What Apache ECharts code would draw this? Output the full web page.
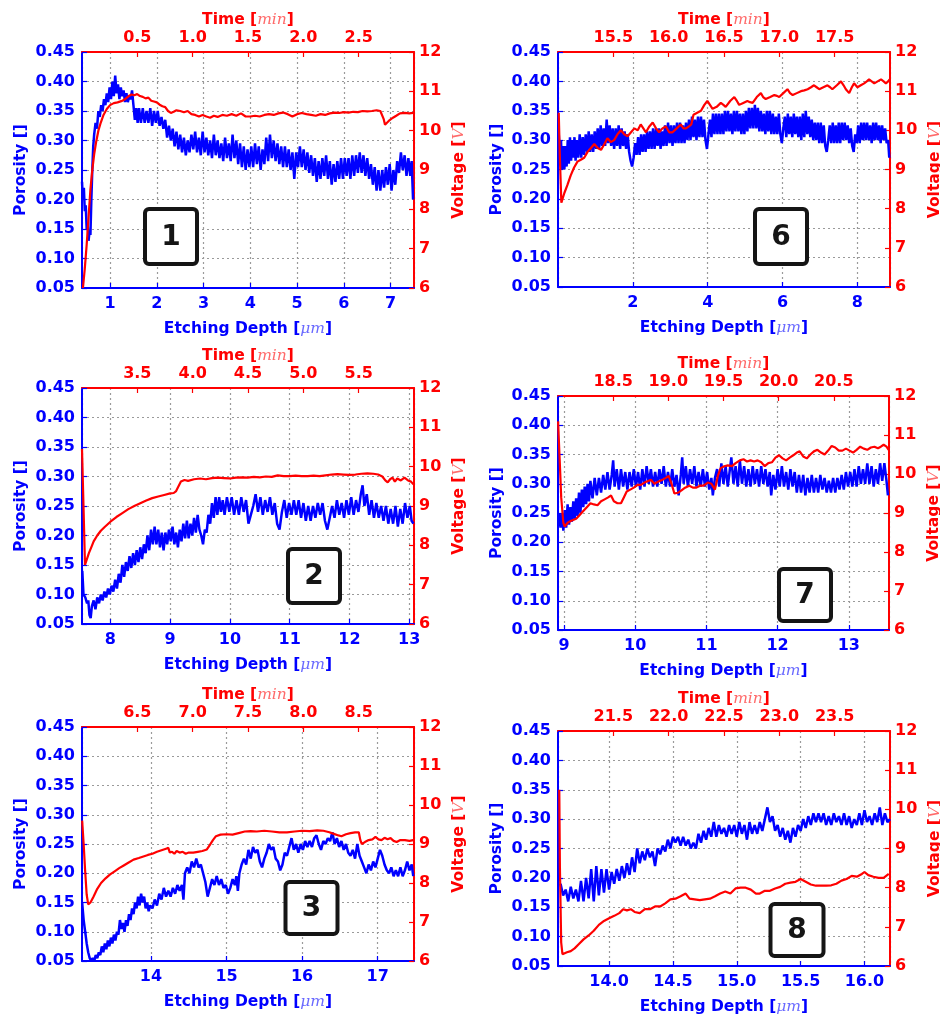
<!DOCTYPE html>
<html><head><meta charset="utf-8">
<script src="https://cdn.jsdelivr.net/npm/echarts@6/dist/echarts.min.js"></script>
<style>html,body{margin:0;padding:0;background:#fff}#c{width:940px;height:1014px}</style>
</head><body><div id="c"></div>
<script>
// ---------------- DATA ----------------
const panelNumbers = ['1','6','2','7','3','8'];
const depthRanges = [[0.4,7.5],[0,8.87],[7.525,13.08],[8.915,13.565],[13.088,17.48],[13.6,16.2]];
const depthSteps = [1,2,1,1,1,0.5];
const timeRanges = [[0,3],[15,18],[3,6],[18,21],[6,9],[21,24]];
const timeStep = 0.5;
const porosityRange = [0.05,0.45];
const porosityStep = 0.05;
const voltageRange = [6,12];
const voltageStep = 1;

const p1Porosity = [[0.40,0.23],[0.42,0.20],[0.44,0.22],[0.46,0.18],[0.48,0.19],[0.50,0.15],[0.52,0.16],[0.54,0.13],[0.56,0.145],[0.58,0.14],[0.60,0.20],[0.62,0.25],[0.64,0.29],[0.66,0.31],[0.69,0.33],[0.72,0.32],[0.75,0.35],[0.78,0.34],[0.81,0.36],[0.84,0.35],[0.87,0.37],[0.90,0.36],[0.93,0.38],[0.96,0.365],[0.99,0.39],[1.02,0.37],[1.05,0.40],[1.08,0.375],[1.11,0.41],[1.14,0.38],[1.17,0.395],[1.20,0.37],[1.23,0.39],[1.26,0.375],[1.29,0.385],[1.32,0.365],[1.35,0.38],[1.38,0.365],[1.41,0.375],[1.44,0.37],[1.47,0.385],[1.50,0.36],[1.53,0.335],[1.56,0.355],[1.59,0.33],[1.62,0.355],[1.66,0.33],[1.70,0.355],[1.74,0.33],[1.78,0.35],[1.82,0.33],[1.86,0.355],[1.90,0.325],[1.94,0.35],[1.98,0.33],[2.02,0.35],[2.06,0.325],[2.10,0.34],[2.14,0.32],[2.18,0.335],[2.22,0.305],[2.26,0.325],[2.30,0.30],[2.34,0.32],[2.38,0.29],[2.42,0.315],[2.46,0.285],[2.50,0.31],[2.54,0.28],[2.58,0.305],[2.62,0.275],[2.66,0.30],[2.70,0.28],[2.74,0.31],[2.78,0.285],[2.82,0.315],[2.86,0.28],[2.90,0.305],[2.94,0.275],[2.98,0.315],[3.02,0.28],[3.06,0.305],[3.10,0.275],[3.14,0.30],[3.18,0.27],[3.22,0.31],[3.26,0.275],[3.30,0.30],[3.34,0.27],[3.38,0.295],[3.42,0.265],[3.46,0.305],[3.50,0.27],[3.54,0.295],[3.58,0.265],[3.62,0.31],[3.66,0.27],[3.70,0.30],[3.74,0.26],[3.78,0.295],[3.82,0.255],[3.86,0.29],[3.90,0.25],[3.94,0.285],[3.98,0.255],[4.02,0.29],[4.06,0.255],[4.10,0.295],[4.14,0.26],[4.18,0.29],[4.22,0.25],[4.26,0.285],[4.30,0.26],[4.34,0.305],[4.38,0.265],[4.42,0.31],[4.46,0.27],[4.50,0.30],[4.54,0.265],[4.58,0.295],[4.62,0.26],[4.66,0.29],[4.70,0.255],[4.74,0.29],[4.78,0.255],[4.82,0.285],[4.86,0.25],[4.90,0.28],[4.94,0.235],[4.98,0.28],[5.02,0.255],[5.06,0.29],[5.10,0.255],[5.14,0.285],[5.18,0.25],[5.22,0.28],[5.26,0.245],[5.30,0.275],[5.34,0.24],[5.38,0.27],[5.42,0.23],[5.46,0.265],[5.50,0.235],[5.54,0.27],[5.58,0.24],[5.62,0.275],[5.66,0.235],[5.70,0.265],[5.74,0.225],[5.78,0.26],[5.82,0.23],[5.86,0.265],[5.90,0.235],[5.94,0.27],[5.98,0.235],[6.02,0.27],[6.06,0.24],[6.10,0.27],[6.14,0.235],[6.18,0.275],[6.22,0.24],[6.26,0.275],[6.30,0.245],[6.34,0.28],[6.38,0.245],[6.42,0.275],[6.46,0.24],[6.50,0.27],[6.54,0.235],[6.58,0.26],[6.62,0.225],[6.66,0.255],[6.70,0.215],[6.74,0.25],[6.78,0.215],[6.82,0.25],[6.86,0.22],[6.90,0.255],[6.94,0.225],[6.98,0.26],[7.02,0.215],[7.06,0.25],[7.10,0.225],[7.14,0.265],[7.18,0.245],[7.22,0.28],[7.26,0.25],[7.30,0.275],[7.34,0.24],[7.38,0.27],[7.42,0.24],[7.45,0.265],[7.48,0.20]];
const p1Voltage = [[0.42,6.0],[0.46,6.5],[0.50,7.1],[0.54,7.8],[0.58,8.5],[0.62,9.0],[0.66,9.4],[0.70,9.7],[0.75,10.0],[0.80,10.2],[0.86,10.4],[0.93,10.55],[1.00,10.65],[1.08,10.7],[1.16,10.72],[1.24,10.75],[1.32,10.8],[1.40,10.88],[1.46,10.92],[1.52,10.9],[1.58,10.93],[1.64,10.88],[1.70,10.86],[1.76,10.82],[1.82,10.84],[1.88,10.76],[1.94,10.74],[2.00,10.72],[2.06,10.66],[2.12,10.62],[2.18,10.6],[2.24,10.5],[2.30,10.45],[2.36,10.48],[2.42,10.52],[2.50,10.5],[2.58,10.47],[2.66,10.5],[2.74,10.42],[2.82,10.4],[2.90,10.36],[2.98,10.4],[3.06,10.36],[3.14,10.33],[3.22,10.38],[3.30,10.35],[3.40,10.4],[3.50,10.38],[3.60,10.42],[3.70,10.38],[3.80,10.44],[3.90,10.36],[4.00,10.36],[4.10,10.38],[4.20,10.36],[4.30,10.4],[4.40,10.42],[4.50,10.4],[4.60,10.44],[4.70,10.46],[4.80,10.42],[4.90,10.36],[5.00,10.42],[5.10,10.45],[5.20,10.42],[5.30,10.4],[5.40,10.38],[5.50,10.42],[5.60,10.4],[5.70,10.44],[5.80,10.46],[5.90,10.45],[6.00,10.47],[6.10,10.46],[6.20,10.48],[6.30,10.47],[6.40,10.5],[6.50,10.49],[6.60,10.5],[6.70,10.52],[6.78,10.5],[6.82,10.47],[6.85,10.3],[6.88,10.15],[6.92,10.2],[6.98,10.27],[7.05,10.33],[7.12,10.38],[7.20,10.44],[7.30,10.45],[7.40,10.44],[7.48,10.45]];

const p6Porosity = [[0.02,0.31],[0.05,0.27],[0.08,0.30],[0.11,0.25],[0.14,0.29],[0.17,0.25],[0.20,0.29],[0.23,0.255],[0.26,0.30],[0.29,0.26],[0.32,0.305],[0.35,0.265],[0.38,0.30],[0.41,0.27],[0.44,0.305],[0.47,0.265],[0.50,0.30],[0.54,0.27],[0.58,0.31],[0.62,0.27],[0.66,0.305],[0.70,0.275],[0.74,0.31],[0.78,0.28],[0.82,0.315],[0.86,0.28],[0.90,0.31],[0.94,0.28],[0.98,0.315],[1.02,0.285],[1.06,0.32],[1.10,0.285],[1.14,0.325],[1.18,0.29],[1.22,0.32],[1.26,0.29],[1.30,0.335],[1.34,0.295],[1.38,0.325],[1.42,0.29],[1.46,0.32],[1.50,0.285],[1.54,0.32],[1.58,0.29],[1.62,0.325],[1.66,0.285],[1.70,0.32],[1.74,0.29],[1.78,0.315],[1.82,0.285],[1.86,0.31],[1.90,0.28],[1.94,0.265],[1.98,0.255],[2.02,0.27],[2.06,0.295],[2.10,0.275],[2.14,0.305],[2.18,0.275],[2.22,0.31],[2.26,0.28],[2.30,0.31],[2.34,0.28],[2.38,0.315],[2.42,0.285],[2.46,0.315],[2.50,0.285],[2.54,0.32],[2.58,0.285],[2.62,0.32],[2.66,0.29],[2.70,0.32],[2.74,0.285],[2.78,0.315],[2.82,0.29],[2.86,0.325],[2.90,0.29],[2.94,0.33],[2.98,0.295],[3.02,0.325],[3.06,0.29],[3.10,0.325],[3.14,0.295],[3.18,0.33],[3.22,0.295],[3.26,0.33],[3.30,0.295],[3.34,0.325],[3.38,0.295],[3.42,0.33],[3.46,0.30],[3.50,0.335],[3.54,0.30],[3.58,0.34],[3.62,0.305],[3.66,0.335],[3.70,0.30],[3.74,0.34],[3.78,0.305],[3.82,0.34],[3.86,0.305],[3.90,0.335],[3.94,0.30],[3.98,0.285],[4.02,0.31],[4.06,0.335],[4.10,0.305],[4.14,0.345],[4.18,0.31],[4.22,0.345],[4.26,0.31],[4.30,0.345],[4.34,0.31],[4.38,0.345],[4.42,0.31],[4.46,0.35],[4.50,0.315],[4.54,0.35],[4.58,0.315],[4.62,0.345],[4.66,0.31],[4.70,0.35],[4.74,0.315],[4.78,0.35],[4.82,0.315],[4.86,0.345],[4.90,0.31],[4.94,0.345],[4.98,0.31],[5.02,0.35],[5.06,0.315],[5.10,0.355],[5.14,0.32],[5.18,0.355],[5.22,0.32],[5.26,0.36],[5.30,0.32],[5.34,0.355],[5.38,0.315],[5.42,0.35],[5.46,0.315],[5.50,0.345],[5.54,0.31],[5.58,0.35],[5.62,0.315],[5.66,0.35],[5.70,0.31],[5.74,0.345],[5.78,0.31],[5.82,0.34],[5.86,0.31],[5.90,0.345],[5.94,0.31],[5.98,0.295],[6.02,0.32],[6.06,0.34],[6.10,0.305],[6.14,0.345],[6.18,0.31],[6.22,0.34],[6.26,0.305],[6.30,0.345],[6.34,0.31],[6.38,0.34],[6.42,0.305],[6.46,0.34],[6.50,0.30],[6.54,0.345],[6.58,0.305],[6.62,0.35],[6.66,0.31],[6.70,0.34],[6.74,0.305],[6.78,0.335],[6.82,0.30],[6.86,0.33],[6.90,0.30],[6.94,0.33],[6.98,0.295],[7.02,0.33],[7.06,0.295],[7.10,0.325],[7.14,0.29],[7.18,0.28],[7.22,0.30],[7.26,0.325],[7.30,0.295],[7.34,0.33],[7.38,0.295],[7.42,0.325],[7.46,0.295],[7.50,0.33],[7.54,0.295],[7.58,0.33],[7.62,0.30],[7.66,0.33],[7.70,0.30],[7.74,0.325],[7.78,0.295],[7.82,0.32],[7.86,0.29],[7.90,0.28],[7.94,0.31],[7.98,0.295],[8.02,0.325],[8.06,0.295],[8.10,0.33],[8.14,0.30],[8.18,0.33],[8.22,0.30],[8.26,0.33],[8.30,0.30],[8.34,0.325],[8.38,0.295],[8.42,0.33],[8.46,0.30],[8.50,0.33],[8.54,0.30],[8.58,0.325],[8.62,0.295],[8.66,0.325],[8.70,0.30],[8.74,0.32],[8.78,0.295],[8.82,0.30],[8.85,0.27]];
const p6Voltage = [[0.02,10.45],[0.05,9.3],[0.09,8.15],[0.17,8.4],[0.25,8.6],[0.34,8.85],[0.43,9.05],[0.52,9.2],[0.61,9.25],[0.70,9.3],[0.79,9.45],[0.88,9.55],[0.97,9.65],[1.06,9.55],[1.15,9.5],[1.24,9.65],[1.32,9.8],[1.41,9.7],[1.50,9.75],[1.59,9.9],[1.68,10.0],[1.77,9.9],[1.86,9.85],[1.95,9.95],[2.04,10.05],[2.13,10.0],[2.21,10.15],[2.28,10.05],[2.35,9.95],[2.44,10.1],[2.53,10.2],[2.62,10.05],[2.70,9.95],[2.79,10.05],[2.88,10.1],[2.97,9.95],[3.06,9.95],[3.17,10.05],[3.28,10.15],[3.35,10.05],[3.42,10.05],[3.50,10.1],[3.56,10.15],[3.62,10.4],[3.72,10.45],[3.82,10.5],[3.91,10.65],[3.99,10.75],[4.06,10.65],[4.13,10.55],[4.24,10.6],[4.35,10.7],[4.42,10.65],[4.48,10.6],[4.60,10.75],[4.71,10.85],[4.78,10.75],[4.84,10.65],[4.95,10.7],[5.06,10.75],[5.13,10.72],[5.20,10.7],[5.31,10.85],[5.42,10.95],[5.48,10.85],[5.55,10.8],[5.67,10.85],[5.78,10.9],[5.85,10.88],[5.91,10.85],[6.02,10.95],[6.13,11.05],[6.20,10.95],[6.27,10.9],[6.38,10.95],[6.49,11.0],[6.58,11.02],[6.67,11.05],[6.76,11.1],[6.84,11.15],[6.91,11.1],[6.98,11.05],[7.09,11.1],[7.20,11.15],[7.27,11.1],[7.33,11.05],[7.45,11.15],[7.56,11.25],[7.63,11.15],[7.69,11.05],[7.78,10.95],[7.85,11.1],[7.91,11.2],[8.00,11.1],[8.09,11.15],[8.18,11.2],[8.25,11.25],[8.31,11.3],[8.38,11.25],[8.45,11.2],[8.54,11.25],[8.63,11.3],[8.70,11.25],[8.76,11.2],[8.82,11.25],[8.86,11.3]];

const p2Porosity = [[7.53,0.14],[7.55,0.10],[7.58,0.095],[7.61,0.085],[7.63,0.09],[7.65,0.065],[7.67,0.06],[7.69,0.08],[7.72,0.09],[7.75,0.075],[7.78,0.095],[7.81,0.085],[7.84,0.10],[7.87,0.09],[7.90,0.105],[7.93,0.095],[7.96,0.11],[7.99,0.10],[8.02,0.115],[8.05,0.105],[8.08,0.125],[8.11,0.11],[8.14,0.135],[8.17,0.12],[8.20,0.15],[8.23,0.13],[8.26,0.155],[8.29,0.14],[8.32,0.165],[8.35,0.145],[8.38,0.17],[8.41,0.15],[8.44,0.175],[8.47,0.155],[8.50,0.18],[8.53,0.16],[8.56,0.185],[8.59,0.17],[8.62,0.20],[8.65,0.175],[8.68,0.21],[8.71,0.185],[8.74,0.215],[8.77,0.185],[8.80,0.21],[8.83,0.18],[8.86,0.205],[8.89,0.175],[8.92,0.205],[8.95,0.185],[8.98,0.21],[9.01,0.19],[9.04,0.215],[9.07,0.185],[9.10,0.205],[9.13,0.18],[9.16,0.21],[9.19,0.19],[9.22,0.22],[9.25,0.195],[9.28,0.225],[9.31,0.195],[9.34,0.22],[9.37,0.20],[9.40,0.23],[9.43,0.205],[9.46,0.235],[9.49,0.21],[9.52,0.20],[9.55,0.185],[9.58,0.21],[9.61,0.205],[9.64,0.235],[9.67,0.22],[9.70,0.255],[9.73,0.23],[9.76,0.265],[9.79,0.235],[9.82,0.265],[9.85,0.24],[9.88,0.26],[9.91,0.235],[9.95,0.265],[9.99,0.24],[10.03,0.265],[10.07,0.235],[10.11,0.26],[10.15,0.235],[10.19,0.265],[10.23,0.24],[10.27,0.26],[10.31,0.22],[10.35,0.235],[10.39,0.25],[10.43,0.27],[10.47,0.24],[10.51,0.265],[10.55,0.235],[10.59,0.26],[10.63,0.24],[10.67,0.265],[10.71,0.235],[10.75,0.255],[10.79,0.22],[10.83,0.21],[10.87,0.24],[10.91,0.26],[10.95,0.23],[10.99,0.255],[11.03,0.235],[11.07,0.26],[11.11,0.235],[11.15,0.26],[11.19,0.23],[11.23,0.255],[11.27,0.225],[11.31,0.25],[11.35,0.225],[11.39,0.25],[11.43,0.23],[11.47,0.255],[11.51,0.235],[11.55,0.255],[11.59,0.225],[11.63,0.21],[11.67,0.23],[11.71,0.25],[11.75,0.23],[11.79,0.26],[11.83,0.235],[11.87,0.255],[11.91,0.23],[11.95,0.26],[11.99,0.235],[12.03,0.265],[12.07,0.235],[12.11,0.26],[12.15,0.24],[12.19,0.27],[12.22,0.285],[12.25,0.25],[12.29,0.27],[12.33,0.235],[12.37,0.26],[12.41,0.23],[12.45,0.255],[12.49,0.23],[12.53,0.25],[12.57,0.225],[12.61,0.25],[12.65,0.22],[12.69,0.245],[12.73,0.22],[12.77,0.25],[12.81,0.215],[12.85,0.245],[12.89,0.22],[12.93,0.255],[12.97,0.23],[13.01,0.25],[13.04,0.225],[13.07,0.22]];
const p2Voltage = [[7.525,10.45],[7.55,9.0],[7.575,7.5],[7.60,7.55],[7.64,7.8],[7.68,7.95],[7.72,8.1],[7.78,8.25],[7.84,8.37],[7.90,8.46],[8.00,8.6],[8.10,8.72],[8.20,8.82],[8.30,8.92],[8.40,9.0],[8.50,9.07],[8.60,9.14],[8.70,9.2],[8.80,9.24],[8.90,9.28],[9.00,9.32],[9.06,9.33],[9.10,9.38],[9.14,9.5],[9.18,9.62],[9.24,9.66],[9.30,9.64],[9.40,9.68],[9.50,9.7],[9.60,9.68],[9.70,9.71],[9.80,9.72],[9.90,9.71],[10.00,9.7],[10.10,9.72],[10.20,9.73],[10.30,9.72],[10.40,9.74],[10.50,9.73],[10.60,9.75],[10.70,9.74],[10.80,9.78],[10.90,9.76],[11.00,9.76],[11.10,9.77],[11.20,9.76],[11.30,9.76],[11.40,9.77],[11.50,9.76],[11.60,9.78],[11.70,9.8],[11.80,9.81],[11.90,9.8],[12.00,9.79],[12.10,9.8],[12.20,9.82],[12.30,9.83],[12.40,9.82],[12.48,9.8],[12.55,9.75],[12.60,9.65],[12.64,9.6],[12.68,9.68],[12.72,9.72],[12.76,9.62],[12.80,9.7],[12.86,9.65],[12.92,9.72],[12.98,9.65],[13.03,9.62],[13.07,9.55]];

const p7Porosity = [[8.93,0.25],[8.95,0.225],[8.97,0.25],[8.99,0.22],[9.01,0.255],[9.03,0.225],[9.05,0.265],[9.07,0.23],[9.09,0.26],[9.11,0.235],[9.13,0.27],[9.15,0.24],[9.17,0.275],[9.19,0.245],[9.21,0.285],[9.23,0.25],[9.25,0.29],[9.27,0.26],[9.29,0.295],[9.31,0.265],[9.33,0.30],[9.35,0.27],[9.37,0.305],[9.40,0.275],[9.43,0.31],[9.46,0.28],[9.49,0.31],[9.52,0.285],[9.55,0.315],[9.58,0.29],[9.61,0.32],[9.64,0.29],[9.67,0.315],[9.69,0.34],[9.71,0.295],[9.74,0.325],[9.77,0.29],[9.80,0.325],[9.83,0.295],[9.86,0.32],[9.89,0.29],[9.92,0.32],[9.95,0.295],[9.98,0.325],[10.01,0.295],[10.04,0.32],[10.07,0.29],[10.10,0.325],[10.13,0.295],[10.16,0.33],[10.19,0.30],[10.22,0.325],[10.25,0.295],[10.28,0.32],[10.31,0.295],[10.34,0.325],[10.37,0.30],[10.40,0.33],[10.43,0.295],[10.46,0.32],[10.49,0.295],[10.52,0.325],[10.55,0.295],[10.58,0.315],[10.61,0.28],[10.64,0.315],[10.66,0.345],[10.68,0.30],[10.71,0.33],[10.74,0.295],[10.77,0.325],[10.80,0.30],[10.83,0.33],[10.86,0.295],[10.89,0.32],[10.92,0.295],[10.95,0.325],[10.98,0.295],[11.01,0.32],[11.04,0.29],[11.07,0.31],[11.09,0.28],[11.12,0.31],[11.15,0.325],[11.18,0.295],[11.21,0.335],[11.24,0.30],[11.27,0.33],[11.30,0.295],[11.33,0.325],[11.35,0.345],[11.38,0.30],[11.41,0.33],[11.44,0.295],[11.47,0.34],[11.50,0.30],[11.53,0.33],[11.56,0.295],[11.59,0.325],[11.62,0.295],[11.65,0.33],[11.68,0.30],[11.71,0.325],[11.74,0.295],[11.77,0.33],[11.80,0.30],[11.83,0.325],[11.86,0.295],[11.89,0.32],[11.91,0.28],[11.94,0.315],[11.97,0.29],[12.00,0.325],[12.03,0.295],[12.06,0.33],[12.09,0.295],[12.12,0.32],[12.15,0.29],[12.18,0.325],[12.21,0.295],[12.24,0.32],[12.27,0.285],[12.30,0.315],[12.33,0.285],[12.36,0.315],[12.39,0.28],[12.42,0.31],[12.45,0.285],[12.48,0.315],[12.51,0.285],[12.54,0.31],[12.57,0.285],[12.60,0.315],[12.63,0.29],[12.66,0.31],[12.69,0.285],[12.72,0.305],[12.75,0.285],[12.78,0.31],[12.81,0.285],[12.84,0.31],[12.87,0.29],[12.90,0.315],[12.93,0.29],[12.96,0.32],[12.99,0.295],[13.02,0.32],[13.05,0.295],[13.08,0.325],[13.11,0.295],[13.14,0.33],[13.17,0.30],[13.20,0.325],[13.23,0.30],[13.26,0.335],[13.29,0.30],[13.32,0.33],[13.35,0.295],[13.38,0.325],[13.41,0.30],[13.44,0.335],[13.47,0.305],[13.50,0.335],[13.53,0.305],[13.55,0.28]];
const p7Voltage = [[8.916,11.35],[8.94,10.3],[8.96,9.4],[8.99,8.75],[9.01,8.65],[9.05,8.75],[9.10,8.8],[9.17,8.85],[9.22,8.95],[9.27,9.05],[9.32,9.15],[9.37,9.25],[9.42,9.22],[9.47,9.2],[9.52,9.3],[9.57,9.35],[9.62,9.4],[9.66,9.45],[9.70,9.3],[9.75,9.25],[9.80,9.25],[9.84,9.4],[9.88,9.55],[9.93,9.6],[9.98,9.65],[10.03,9.72],[10.08,9.72],[10.13,9.78],[10.18,9.82],[10.22,9.85],[10.27,9.75],[10.32,9.8],[10.38,9.85],[10.43,9.9],[10.47,9.95],[10.51,9.75],[10.55,9.5],[10.60,9.52],[10.65,9.58],[10.70,9.65],[10.76,9.7],[10.81,9.65],[10.86,9.65],[10.91,9.7],[10.96,9.7],[11.02,9.78],[11.07,9.75],[11.12,9.6],[11.16,9.95],[11.20,10.15],[11.25,10.2],[11.30,10.22],[11.36,10.2],[11.41,10.28],[11.47,10.35],[11.52,10.38],[11.57,10.32],[11.62,10.35],[11.67,10.32],[11.72,10.35],[11.77,10.3],[11.82,10.2],[11.87,10.28],[11.92,10.3],[11.97,10.42],[12.02,10.48],[12.07,10.4],[12.12,10.35],[12.17,10.42],[12.22,10.48],[12.27,10.55],[12.31,10.58],[12.36,10.45],[12.41,10.4],[12.46,10.5],[12.51,10.58],[12.56,10.62],[12.61,10.55],[12.66,10.5],[12.71,10.6],[12.76,10.72],[12.81,10.68],[12.86,10.6],[12.91,10.6],[12.96,10.65],[13.01,10.6],[13.06,10.55],[13.11,10.62],[13.16,10.7],[13.21,10.65],[13.26,10.62],[13.31,10.68],[13.36,10.7],[13.41,10.66],[13.45,10.7],[13.49,10.75],[13.53,10.7],[13.56,10.62]];

const p3Porosity = [[13.09,0.15],[13.11,0.12],[13.13,0.10],[13.15,0.08],[13.17,0.065],[13.19,0.055],[13.21,0.05],[13.23,0.055],[13.25,0.05],[13.27,0.06],[13.29,0.055],[13.31,0.065],[13.33,0.06],[13.35,0.075],[13.37,0.065],[13.39,0.08],[13.41,0.07],[13.43,0.085],[13.45,0.075],[13.47,0.09],[13.49,0.08],[13.51,0.095],[13.53,0.085],[13.55,0.10],[13.57,0.095],[13.59,0.12],[13.61,0.105],[13.63,0.115],[13.65,0.10],[13.67,0.12],[13.69,0.11],[13.71,0.13],[13.73,0.12],[13.75,0.14],[13.77,0.13],[13.79,0.15],[13.81,0.14],[13.83,0.16],[13.85,0.145],[13.87,0.165],[13.89,0.15],[13.91,0.16],[13.93,0.14],[13.95,0.15],[13.97,0.135],[13.99,0.145],[14.02,0.14],[14.05,0.155],[14.08,0.145],[14.11,0.165],[14.14,0.155],[14.17,0.175],[14.20,0.16],[14.23,0.17],[14.26,0.16],[14.29,0.175],[14.32,0.165],[14.35,0.18],[14.38,0.17],[14.41,0.18],[14.43,0.155],[14.45,0.20],[14.48,0.21],[14.51,0.20],[14.54,0.22],[14.57,0.21],[14.60,0.225],[14.63,0.21],[14.66,0.215],[14.69,0.20],[14.72,0.185],[14.75,0.16],[14.78,0.175],[14.81,0.19],[14.84,0.18],[14.87,0.195],[14.90,0.18],[14.93,0.19],[14.96,0.175],[14.99,0.18],[15.02,0.165],[15.05,0.175],[15.08,0.19],[15.11,0.18],[15.13,0.195],[15.15,0.17],[15.17,0.20],[15.20,0.215],[15.23,0.225],[15.26,0.215],[15.29,0.24],[15.32,0.225],[15.35,0.245],[15.38,0.235],[15.41,0.24],[15.44,0.22],[15.47,0.21],[15.50,0.225],[15.53,0.235],[15.56,0.25],[15.59,0.24],[15.62,0.245],[15.65,0.225],[15.68,0.22],[15.71,0.205],[15.74,0.215],[15.77,0.235],[15.80,0.23],[15.83,0.245],[15.86,0.26],[15.89,0.24],[15.92,0.25],[15.95,0.235],[15.98,0.25],[16.01,0.24],[16.04,0.255],[16.07,0.245],[16.10,0.255],[16.13,0.245],[16.16,0.26],[16.19,0.265],[16.22,0.25],[16.25,0.24],[16.28,0.255],[16.31,0.25],[16.34,0.26],[16.37,0.255],[16.40,0.27],[16.43,0.25],[16.46,0.26],[16.49,0.245],[16.52,0.255],[16.55,0.24],[16.58,0.25],[16.61,0.235],[16.64,0.23],[16.67,0.24],[16.70,0.225],[16.73,0.25],[16.76,0.23],[16.79,0.22],[16.82,0.21],[16.85,0.20],[16.88,0.215],[16.91,0.205],[16.94,0.22],[16.97,0.21],[17.00,0.225],[17.03,0.24],[17.06,0.23],[17.09,0.215],[17.12,0.205],[17.15,0.20],[17.18,0.21],[17.21,0.195],[17.24,0.205],[17.27,0.195],[17.30,0.21],[17.33,0.195],[17.36,0.205],[17.39,0.22],[17.42,0.205],[17.45,0.215],[17.47,0.195]];
const p3Voltage = [[13.09,9.6],[13.11,9.0],[13.13,8.3],[13.15,7.7],[13.17,7.45],[13.20,7.5],[13.24,7.65],[13.29,7.85],[13.34,8.0],[13.40,8.12],[13.46,8.22],[13.52,8.3],[13.58,8.38],[13.64,8.45],[13.70,8.52],[13.77,8.6],[13.84,8.64],[13.90,8.68],[13.96,8.72],[14.02,8.75],[14.08,8.8],[14.14,8.84],[14.20,8.88],[14.23,8.9],[14.25,8.78],[14.28,8.8],[14.31,8.75],[14.34,8.82],[14.38,8.78],[14.42,8.8],[14.46,8.75],[14.50,8.78],[14.56,8.78],[14.62,8.8],[14.68,8.82],[14.74,8.86],[14.78,8.98],[14.82,9.1],[14.86,9.2],[14.92,9.24],[15.00,9.25],[15.08,9.24],[15.16,9.28],[15.24,9.32],[15.32,9.33],[15.40,9.32],[15.50,9.34],[15.60,9.32],[15.70,9.3],[15.80,9.3],[15.90,9.32],[16.00,9.34],[16.10,9.33],[16.20,9.35],[16.28,9.34],[16.36,9.3],[16.42,9.26],[16.48,9.22],[16.52,9.2],[16.58,9.25],[16.64,9.28],[16.70,9.3],[16.75,9.3],[16.77,9.1],[16.79,9.0],[16.83,9.05],[16.88,9.1],[16.93,9.12],[16.97,9.18],[17.01,9.12],[17.05,9.1],[17.09,9.16],[17.13,9.12],[17.17,9.15],[17.21,9.08],[17.25,9.05],[17.30,9.1],[17.36,9.1],[17.42,9.08],[17.47,9.1]];

const p8Porosity = [[13.62,0.19],[13.64,0.17],[13.66,0.18],[13.68,0.16],[13.70,0.185],[13.72,0.165],[13.74,0.18],[13.76,0.16],[13.78,0.195],[13.80,0.16],[13.82,0.20],[13.84,0.165],[13.86,0.215],[13.88,0.16],[13.90,0.22],[13.92,0.17],[13.94,0.215],[13.96,0.175],[13.98,0.215],[14.00,0.18],[14.02,0.21],[14.04,0.19],[14.06,0.215],[14.08,0.195],[14.10,0.22],[14.12,0.20],[14.14,0.225],[14.16,0.205],[14.18,0.235],[14.20,0.21],[14.22,0.25],[14.24,0.225],[14.26,0.245],[14.28,0.23],[14.30,0.25],[14.32,0.235],[14.34,0.245],[14.36,0.22],[14.38,0.25],[14.40,0.24],[14.42,0.255],[14.44,0.245],[14.46,0.265],[14.48,0.25],[14.50,0.27],[14.52,0.26],[14.54,0.27],[14.56,0.255],[14.58,0.27],[14.60,0.255],[14.62,0.265],[14.64,0.25],[14.66,0.26],[14.68,0.25],[14.70,0.275],[14.72,0.26],[14.74,0.28],[14.76,0.265],[14.78,0.285],[14.80,0.27],[14.82,0.295],[14.84,0.27],[14.86,0.29],[14.88,0.275],[14.90,0.285],[14.92,0.27],[14.94,0.29],[14.96,0.275],[14.98,0.29],[15.00,0.27],[15.02,0.295],[15.04,0.275],[15.06,0.29],[15.08,0.265],[15.10,0.295],[15.12,0.275],[15.14,0.29],[15.16,0.275],[15.18,0.295],[15.20,0.28],[15.22,0.30],[15.24,0.32],[15.26,0.295],[15.28,0.305],[15.30,0.28],[15.32,0.29],[15.34,0.27],[15.36,0.285],[15.38,0.265],[15.40,0.28],[15.42,0.26],[15.44,0.285],[15.46,0.27],[15.48,0.29],[15.50,0.28],[15.52,0.30],[15.54,0.285],[15.56,0.305],[15.58,0.29],[15.60,0.31],[15.62,0.295],[15.64,0.31],[15.66,0.295],[15.68,0.31],[15.70,0.29],[15.72,0.305],[15.74,0.29],[15.76,0.31],[15.78,0.295],[15.80,0.305],[15.82,0.29],[15.84,0.31],[15.86,0.29],[15.88,0.305],[15.90,0.285],[15.92,0.30],[15.94,0.29],[15.96,0.31],[15.98,0.29],[16.00,0.315],[16.02,0.295],[16.04,0.305],[16.06,0.29],[16.08,0.31],[16.10,0.295],[16.12,0.32],[16.14,0.29],[16.16,0.31],[16.18,0.295],[16.20,0.30]];
const p8Voltage = [[13.61,10.5],[13.615,8.5],[13.625,6.6],[13.635,6.3],[13.65,6.28],[13.67,6.35],[13.70,6.38],[13.73,6.45],[13.76,6.55],[13.80,6.68],[13.84,6.78],[13.88,6.9],[13.92,7.05],[13.96,7.15],[14.00,7.22],[14.04,7.28],[14.08,7.35],[14.11,7.45],[14.14,7.42],[14.17,7.45],[14.20,7.38],[14.24,7.35],[14.28,7.45],[14.32,7.45],[14.36,7.52],[14.40,7.52],[14.44,7.6],[14.48,7.7],[14.52,7.72],[14.56,7.78],[14.60,7.85],[14.63,7.72],[14.67,7.7],[14.71,7.68],[14.75,7.7],[14.79,7.72],[14.83,7.78],[14.87,7.85],[14.91,7.9],[14.95,7.85],[14.99,7.98],[15.03,8.0],[15.07,8.0],[15.11,7.95],[15.15,7.85],[15.18,7.85],[15.22,7.92],[15.26,7.92],[15.30,7.98],[15.34,8.02],[15.38,8.1],[15.42,8.13],[15.46,8.15],[15.50,8.22],[15.54,8.15],[15.58,8.08],[15.62,8.05],[15.66,8.05],[15.70,8.05],[15.74,8.06],[15.78,8.1],[15.82,8.18],[15.86,8.22],[15.90,8.3],[15.94,8.28],[15.98,8.35],[16.00,8.4],[16.03,8.32],[16.07,8.28],[16.11,8.25],[16.15,8.25],[16.19,8.35]];

const porosityData = [p1Porosity,p6Porosity,p2Porosity,p7Porosity,p3Porosity,p8Porosity];
const voltageData = [p1Voltage,p6Voltage,p2Voltage,p7Voltage,p3Voltage,p8Voltage];

// ---------------- LAYOUT / STYLE ----------------
const BLUE = '#0000ff', RED = '#ff0000';
const FONT = '"DejaVu Sans", Verdana, sans-serif';
const grids = [
  {left:82, top:52, width:332, height:236},
  {left:558, top:52, width:332, height:235},
  {left:82, top:388, width:332, height:236},
  {left:558, top:396, width:331, height:234},
  {left:82, top:727, width:332, height:234},
  {left:558, top:731, width:332, height:235}
];
const boxes = [[145,209,52,55],[755,209,52,55],[288,549,52,54],[779,569,52,52],[285.5,882,52,52],[770.5,904,53,52]];

const gridLine = {show:true, lineStyle:{color:'#9a9a9a', width:1.2, type:[2,3]}};
const NAME_SIZE = 15.5, TICK_SIZE = 16;
const italicRich = (c) => ({m:{fontStyle:'italic', fontWeight:'normal', fontFamily:'"DejaVu Serif", serif', color:c, fontSize:NAME_SIZE}});

const xAxis = [], yAxis = [], series = [], graphic = [];
grids.forEach((g, i) => {
  const step = depthSteps[i];
  xAxis.push({
    gridIndex:i, type:'value', position:'bottom',
    min:depthRanges[i][0], max:depthRanges[i][1],
    minInterval:step, maxInterval:step, splitNumber:6,
    name:'Etching Depth [{m|μm}]', nameLocation:'middle', nameGap:33,
    nameTextStyle:{color:BLUE, fontWeight:'bold', fontSize:NAME_SIZE, fontFamily:FONT, rich:italicRich('#6a6aff')},
    axisLine:{show:true, onZero:false, lineStyle:{color:BLUE, width:2}},
    axisTick:{show:true, inside:true, length:5, lineStyle:{color:BLUE, width:1.2}},
    axisLabel:{color:BLUE, fontWeight:'bold', fontSize:TICK_SIZE, fontFamily:FONT, margin:8,
      showMinLabel:false, showMaxLabel:false,
      formatter:(v)=> step < 1 ? v.toFixed(1) : String(Math.round(v))},
    splitLine:gridLine
  });
  xAxis.push({
    gridIndex:i, type:'value', position:'top',
    min:timeRanges[i][0], max:timeRanges[i][1], interval:timeStep,
    name:'Time [{m|min}]', nameLocation:'middle', nameGap:24,
    nameTextStyle:{color:RED, fontWeight:'bold', fontSize:NAME_SIZE, fontFamily:FONT, rich:italicRich('#ff6a6a')},
    axisLine:{show:true, onZero:false, lineStyle:{color:RED, width:2}},
    axisTick:{show:true, inside:true, length:5, lineStyle:{color:RED, width:1.2}},
    axisLabel:{color:RED, fontWeight:'bold', fontSize:TICK_SIZE, fontFamily:FONT, margin:6,
      showMinLabel:false, showMaxLabel:false, formatter:(v)=>v.toFixed(1)},
    splitLine:{show:false}
  });
  yAxis.push({
    gridIndex:i, type:'value', position:'left',
    min:porosityRange[0], max:porosityRange[1], interval:porosityStep,
    name:'Porosity []', nameLocation:'middle', nameGap:53,
    nameTextStyle:{color:BLUE, fontWeight:'bold', fontSize:NAME_SIZE, fontFamily:FONT},
    axisLine:{show:true, onZero:false, lineStyle:{color:BLUE, width:2}},
    axisTick:{show:true, inside:true, length:5, lineStyle:{color:BLUE, width:1.2}},
    axisLabel:{color:BLUE, fontWeight:'bold', fontSize:TICK_SIZE, fontFamily:FONT, margin:7, formatter:(v)=>v.toFixed(2)},
    splitLine:gridLine
  });
  yAxis.push({
    gridIndex:i, type:'value', position:'right',
    min:voltageRange[0], max:voltageRange[1], interval:voltageStep,
    name:'Voltage [{m|V}]', nameLocation:'middle', nameGap:37,
    nameTextStyle:{color:RED, fontWeight:'bold', fontSize:NAME_SIZE, fontFamily:FONT, rich:italicRich('#ff6a6a')},
    axisLine:{show:true, onZero:false, lineStyle:{color:RED, width:2}},
    axisTick:{show:true, inside:true, length:5, lineStyle:{color:RED, width:1.2}},
    axisLabel:{color:RED, fontWeight:'bold', fontSize:TICK_SIZE, fontFamily:FONT, margin:5, formatter:(v)=>String(Math.round(v))},
    splitLine:{show:false}
  });
  series.push({type:'line', xAxisIndex:2*i, yAxisIndex:2*i, data:porosityData[i],
    symbol:'none', showSymbol:false, clip:true, z:2,
    lineStyle:{color:BLUE, width:2.5}, itemStyle:{color:BLUE}});
  series.push({type:'line', xAxisIndex:2*i, yAxisIndex:2*i+1, data:voltageData[i],
    symbol:'none', showSymbol:false, clip:true, z:3,
    lineStyle:{color:RED, width:2.2}, itemStyle:{color:RED}});
  const b = boxes[i];
  graphic.push({type:'rect', z:100, shape:{x:b[0], y:b[1], width:b[2], height:b[3], r:4},
    style:{fill:'#fff', stroke:'#151515', lineWidth:4}});
  graphic.push({type:'text', z:101, x:b[0]+b[2]/2, y:b[1]+b[3]/2+1,
    style:{text:panelNumbers[i], font:'bold 28px "DejaVu Sans"', fill:'#151515', align:'center', verticalAlign:'middle'}});
});

const chart = echarts.init(document.getElementById('c'), null, {renderer:'canvas'});
chart.setOption({
  animation:false,
  backgroundColor:'#fff',
  textStyle:{fontFamily:FONT},
  grid:grids.map(g => Object.assign({containLabel:false, outerBoundsMode:'none'}, g)),
  xAxis, yAxis, series, graphic
});
</script></body></html>
